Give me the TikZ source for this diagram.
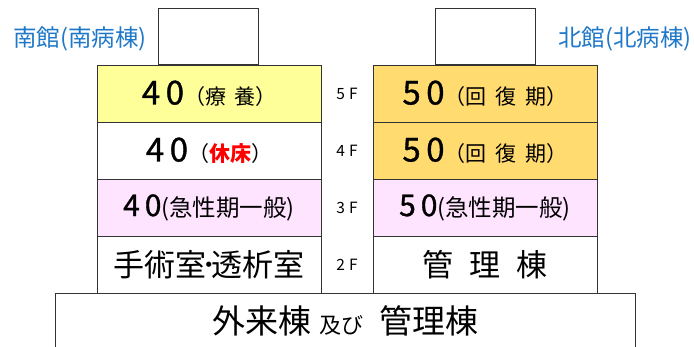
\documentclass[tikz,border=0pt]{standalone}
\usepackage{fontspec}
\newfontfamily\jp{Noto Sans CJK JP}
\newfontfamily\jpnum[FakeBold=1]{Noto Sans CJK JP}
\definecolor{wingblue}{HTML}{1F78C8}
\definecolor{ryoyellow}{HTML}{FFFF99}
\definecolor{kaigold}{HTML}{FFDB70}
\definecolor{kyupink}{HTML}{FFE4FF}
\newcommand{\bignum}{\jpnum\fontsize{33pt}{33pt}\selectfont}
\newcommand{\bigkanji}{\fontsize{31pt}{31pt}\selectfont}
\newcommand{\midkanji}{\fontsize{21pt}{21pt}\selectfont}
\newcommand{\genkanji}{\fontsize{23.5pt}{23.5pt}\selectfont}

\begin{document}
\begin{tikzpicture}[x=1pt,y=-1pt]
    \tikzstyle{floor}=[draw=black!80,line width=0.9pt,minimum width=224pt,minimum height=57pt,inner sep=0pt,font=\jp]
    \tikzstyle{roof}=[draw=black!80,line width=0.9pt,minimum width=100pt,minimum height=56pt,inner sep=0pt]
    \tikzstyle{floornum}=[font=\jp\fontsize{15.5pt}{15.5pt}\selectfont,inner sep=0pt]
    \tikzstyle{wing}=[font=\jp\fontsize{23.5pt}{23.5pt}\selectfont,text=wingblue,inner sep=0pt]
    \useasboundingbox (0,0) rectangle (694,347);

    % Roof boxes on top of both wings
    \node[roof] (RS) at (208.5,36) {};
    \node[roof] (RN) at (485,36) {};

    % Wing names
    \node[wing] (S) at (80,39) {南館(南病棟)};
    \node[wing,anchor=west] (N) at (558,39) {北館(北病棟)};

    % South wing floors
    \node[floor,fill=ryoyellow] (S-5) at (209,93.5) {{\bignum 4\,0}{\midkanji（療\hspace{8pt}養）}};
    \node[floor] (S-4) at (209,150.5) {{\bignum 4\,0}{\midkanji（\textcolor{red}{\bfseries 休床}）}};
    \node[floor,fill=kyupink] (S-3) at (209,207.5) {{\jpnum\fontsize{30pt}{30pt}\selectfont 4\,0}{\genkanji(急性期一般)}};
    \node[floor] (S-2) at (209,264.5) {{\bigkanji 手術室\hspace{-5pt}･\hspace{-5pt}透析室}};

    % North wing floors
    \foreach \name / \y in {5/93.5,4/150.5}
        \node[floor,fill=kaigold] (N-\name) at (485,\y) {{\bignum 5\,0}{\midkanji（回\hspace{9pt}復\hspace{9pt}期）}};
    \node[floor,fill=kyupink] (N-3) at (485,207.5) {{\jpnum\fontsize{30pt}{30pt}\selectfont 5\,0}{\genkanji(急性期一般)}};
    \node[floor] (N-2) at (485,264.5) {{\bigkanji 管\hspace{16pt}理\hspace{16pt}棟}};

    % Floor numbers between the wings
    \foreach \name / \y in {5/93.5,4/150.5,3/207.5,2/264.5}
        \node[floornum] (F-\name) at (347,\y) {\name\hspace{4pt}F};

    % Ground building
    \node[floor,minimum width=580pt,minimum height=56pt] (G) at (345,321) {{\fontsize{33pt}{33pt}\selectfont 外来棟}\hspace{8pt}{\fontsize{22pt}{22pt}\selectfont 及び}\hspace{16pt}{\fontsize{33pt}{33pt}\selectfont 管理棟}};
\end{tikzpicture}
\end{document}
